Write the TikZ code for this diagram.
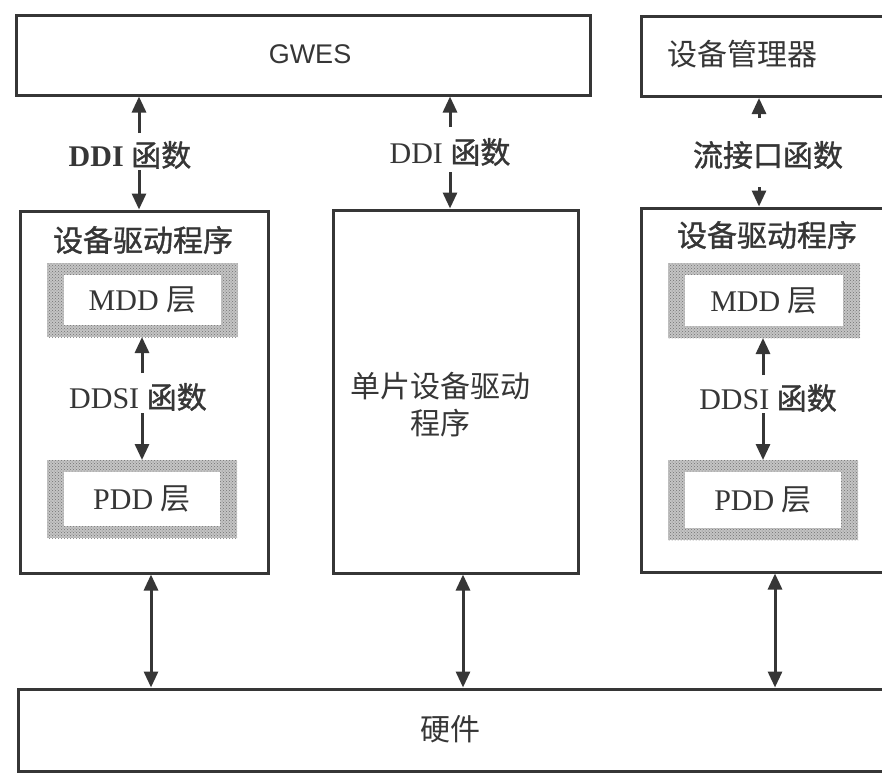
\documentclass[tikz,border=0pt]{standalone}
\usepackage{fontspec}
\setmainfont{Liberation Serif}
\newfontfamily\cjk{Noto Sans CJK SC}
\newfontfamily\cjkb[FakeBold=1.2]{Noto Sans CJK SC}
\newfontfamily\sanslat{Liberation Sans}
\usetikzlibrary{arrows.meta,calc,patterns}
\definecolor{ink}{HTML}{363636}
\definecolor{framegray}{HTML}{C4C4C4}
\begin{document}
\begin{tikzpicture}[x=1pt,y=-1pt,
  box/.style={draw=ink, line width=3pt, fill=white, inner sep=0pt},
  tip/.tip={Triangle[width=14pt,length=16pt]},
  arr/.style={draw=ink, line width=3pt, -tip},
  darr/.style={draw=ink, line width=3pt, tip-tip},
  txt/.style={text=ink, inner sep=0pt, font=\fontsize{30}{34}\selectfont},
  layer/.style={fill=framegray, inner sep=0pt, outer sep=0pt, text=ink,
    font=\fontsize{30}{34}\selectfont,
    path picture={
      \fill[pattern=crosshatch dots, pattern color=ink!70]
        (path picture bounding box.south west) rectangle (path picture bounding box.north east);
      \fill[white]
        ($(path picture bounding box.south west)+(17,-12)$) rectangle
        ($(path picture bounding box.north east)+(-17,12)$);
    }}
]
\useasboundingbox (0,0) rectangle (882,774);
\clip (0,0) rectangle (882,774);

% top boxes
\node[box, minimum width=574pt, minimum height=80pt] (gwes) at (303,55) {};
\node[txt, font=\sanslat\fontsize{27}{32}\selectfont] (gwest) at (310,54) {GWES};
\node[box, minimum width=260pt, minimum height=80pt, anchor=north west] (dm) at (640,15) {};
\node[txt, font=\cjk\fontsize{30}{34}\selectfont, anchor=west] (dmt) at (667,54) {设备管理器};

% driver boxes
\node[box, minimum width=248pt, minimum height=362pt] (drvL) at (144,392) {};
\node[box, minimum width=245pt, minimum height=363pt] (drvM) at (455.5,391.5) {};
\node[box, minimum width=259pt, minimum height=364pt] (drvR) at (770.5,390) {};

% hardware
\node[box, minimum width=882pt, minimum height=82pt] (hw) at (459,730) {};
\node[txt, font=\cjk\fontsize{30}{34}\selectfont] (hwt) at (450,729) {硬件};

% titles
\node[txt, font=\cjkb\fontsize{30}{34}\selectfont] (tL) at (143,240) {设备驱动程序};
\node[txt, font=\cjkb\fontsize{30}{34}\selectfont] (tR) at (767,235) {设备驱动程序};
\node[txt, align=center, font=\cjk\fontsize{30}{37}\selectfont] (tM) at (440,405) {单片设备驱动\\程序};

% layers
\node[layer, minimum width=191pt, minimum height=74pt] (mddL) at (142.5,300) {MDD {\cjk 层}};
\node[layer, minimum width=190pt, minimum height=78pt] (pddL) at (142,499) {PDD {\cjk 层}};
\node[layer, minimum width=192pt, minimum height=75pt] (mddR) at (764,300.5) {MDD {\cjk 层}};
\node[layer, minimum width=190pt, minimum height=80pt] (pddR) at (763,500) {PDD {\cjk 层}};

% top labels
\node[txt] (ddiL) at (130,155) {\textbf{DDI} {\cjkb 函数}};
\node[txt] (ddiM) at (450,152) {DDI {\cjkb 函数}};
\node[txt, font=\cjkb\fontsize{30}{34}\selectfont] (stream) at (768,155) {流接口函数};

% inner labels
\node[txt] (dsL) at (138,397) {DDSI {\cjkb 函数}};
\node[txt] (dsR) at (768,398) {DDSI {\cjkb 函数}};

% arrow axes
\coordinate (aL) at (139,155);
\coordinate (aM) at (450,152);
\coordinate (aR) at (759,155);
\coordinate (iL) at (142,397);
\coordinate (iR) at (763,398);
\coordinate (bL) at (151,630);
\coordinate (bM) at (463,630);
\coordinate (bR) at (775,630);

% top arrows
\draw[arr, shorten <=22pt] (aL) -- (aL |- gwes.south);
\draw[arr, shorten <=15pt] (aL) -- (aL |- drvL.north);
\draw[arr, shorten <=25pt] (aM) -- (aM |- gwes.south);
\draw[arr, shorten <=20pt] (aM) -- (aM |- drvM.north);
\draw[arr, shorten <=37pt] (aR) -- (aR |- dm.south);
\draw[arr, shorten <=32pt] (aR) -- (aR |- drvR.north);

% inner arrows
\draw[arr, shorten <=24pt] (iL) -- (iL |- mddL.south);
\draw[arr, shorten <=16pt] (iL) -- (iL |- pddL.north);
\draw[arr, shorten <=23pt] (iR) -- (iR |- mddR.south);
\draw[arr, shorten <=15pt] (iR) -- (iR |- pddR.north);

% bottom arrows
\draw[darr] (bL |- drvL.south) -- (bL |- hw.north);
\draw[darr] (bM |- drvM.south) -- (bM |- hw.north);
\draw[darr] (bR |- drvR.south) -- (bR |- hw.north);
\end{tikzpicture}
\end{document}
